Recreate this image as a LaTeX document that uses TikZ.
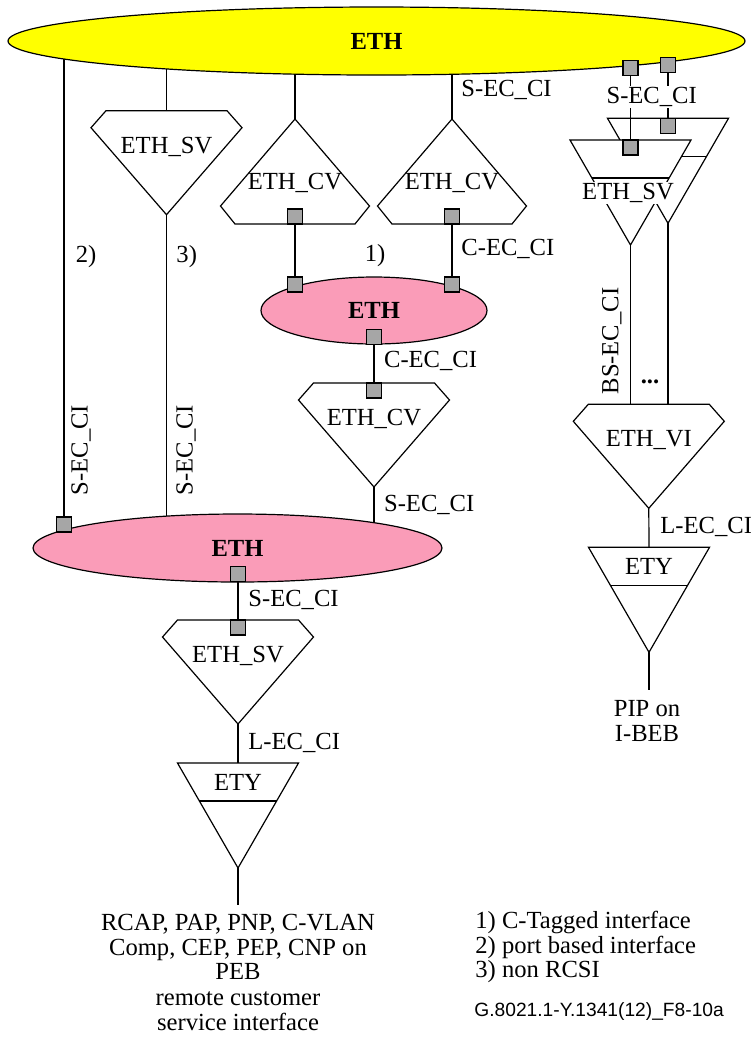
\documentclass[tikz,border=0pt]{standalone}
\usepackage{fontspec}
\setmainfont{Liberation Serif}
\newfontfamily\lsans{Liberation Sans}
\usetikzlibrary{shapes.geometric}
\pgfdeclarelayer{bg}
\pgfsetlayers{bg,main}
\definecolor{ethyellow}{RGB}{255,255,0}
\definecolor{ethpink}{RGB}{250,156,184}
\definecolor{sqgray}{RGB}{166,166,166}
\newcommand\fsz{\fontsize{12.3}{14.5}\selectfont}
\tikzset{
  fnshape/.style={draw, fill=white, line width=0.6pt, line join=miter},
  conn/.style={line width=0.6pt},
  sq/.style={draw, fill=sqgray, line width=0.6pt, minimum size=7.5pt, inner sep=0pt},
  lbl/.style={font=\fsz, inner sep=1pt},
  wlbl/.style={font=\fsz, inner sep=0.6pt, fill=white},
  ell/.style={ellipse, draw, line width=0.6pt, inner sep=0pt, font=\fsz\bfseries},
  pics/pentdown/.style={code={
    \draw[fnshape] (-60.5,0) -- (60.5,0) -- (75.5,17) -- (0,104) -- (-75.5,17) -- cycle;
    \coordinate (-top) at (0,0); \coordinate (-bot) at (0,104);
    \node[lbl] (-txt) at (0,36) {#1};
  }},
  pics/pentup/.style={code={
    \draw[fnshape] (0,0) -- (74.5,87) -- (60,105) -- (-60,105) -- (-74.5,87) -- cycle;
    \coordinate (-top) at (0,0); \coordinate (-bot) at (0,105);
    \node[lbl] (-txt) at (0,64) {#1};
  }},
  pics/tri/.style={code={
    \draw[fnshape] (-60.5,0) -- (60.5,0) -- (0,105) -- cycle;
    \draw[conn] (-38.6,38) -- (38.6,38);
    \coordinate (-top) at (0,0); \coordinate (-bot) at (0,105);
    \node[lbl] (-txt) at (0,19) {#1};
  }},
}
\begin{document}
\begin{tikzpicture}[x=0.5pt, y=-0.5pt]
\useasboundingbox (0,0) rectangle (751,1041);

% ellipses
\node[ell, fill=ethyellow, minimum width=368.5pt, minimum height=34pt] (top) at (376.5,41) {ETH};
\node[ell, fill=ethpink, minimum width=113pt, minimum height=33.5pt] (mid) at (374,310.5) {ETH};
\node[ell, fill=ethpink, minimum width=204.5pt, minimum height=34pt] (low) at (237.5,548) {ETH};

% function blocks
\pic (sv1) at (166.5,110.7) {pentdown={ETH\_SV}};
\pic (cv1) at (295,119) {pentup={ETH\_CV}};
\pic (cv2) at (452,119) {pentup={ETH\_CV}};
\pic (cv3) at (374,383) {pentdown={ETH\_CV}};
\pic (sv2) at (238,620) {pentdown={ETH\_SV}};
\pic (ety1) at (238,763) {tri={ETY}};
\pic (bk) at (668,118.3) {tri={}};
\pic (fr) at (630.5,140) {tri={}};
\pic (vi) at (648.8,404.3) {pentdown={ETH\_VI}};
\pic (ety2) at (649,547.3) {tri={ETY}};

% connection squares
\node[sq] (sqA) at (295,216.5) {};
\node[sq] (sqB) at (452,216.5) {};
\node[sq] (sqC) at (295,284.5) {};
\node[sq] (sqD) at (452,284.5) {};
\node[sq] (sqE) at (374,337) {};
\node[sq] (sqF) at (374,390.5) {};
\node[sq] (sqG) at (64,524.5) {};
\node[sq] (sqH) at (238,574) {};
\node[sq] (sqI) at (238,627.5) {};
\node[sq] (sqJ) at (630.5,68) {};
\node[sq] (sqK) at (668,65) {};
\node[sq] (sqL) at (668,125.8) {};
\node[sq] (sqM) at (630.5,147.5) {};

\coordinate (end1) at (238,905);
\coordinate (end2) at (649,690);

% connectors behind
\begin{pgfonlayer}{bg}
\draw[conn] (sqG |- top) -- (sqG);
\draw[conn] (sv1-top |- top) -- (sv1-top);
\draw[conn] (sv1-bot) -- (sv1-bot |- low);
\draw[conn] (cv1-top |- top) -- (cv1-top);
\draw[conn] (cv2-top |- top) -- (cv2-top);
\draw[conn] (sqA) -- (sqC);
\draw[conn] (sqB) -- (sqD);
\draw[conn] (sqE) -- (sqF);
\draw[conn] (cv3-bot) -- (cv3-bot |- low);
\draw[conn] (sqH) -- (sqI);
\draw[conn] (sv2-bot) -- (ety1-top);
\draw[conn] (ety1-bot) -- (end1);
\draw[conn] (fr-bot) -- (fr-bot |- vi-top);
\draw[conn] (bk-bot) -- (bk-bot |- vi-top);
\draw[conn] (vi-bot) -- (ety2-top);
\draw[conn] (ety2-bot) -- (end2);
\end{pgfonlayer}
\draw[conn] (sqJ.south) -- (sqM.north);
\draw[conn] (sqK.south) -- (sqL.north);

% labels
\node[wlbl] (lsec1) at (651.7,96.7) {S-EC\_CI};
\node[wlbl] (lsvr) at (628,193) {ETH\_SV};
\node[lbl, anchor=west] (lsec2) at (459,90) {S-EC\_CI};
\node[lbl] (l2) at (86,256.7) {2)};
\node[lbl] (l3) at (186.7,256.7) {3)};
\node[lbl] (l1) at (375,256) {1)};
\node[lbl, anchor=west] (lcec1) at (459,249) {C-EC\_CI};
\node[lbl, anchor=west] (lcec2) at (381.7,361) {C-EC\_CI};
\node[lbl, anchor=west] (lsec3) at (381.7,505) {S-EC\_CI};
\node[lbl, rotate=90] (lsec4) at (81,450) {S-EC\_CI};
\node[lbl, rotate=90] (lsec5) at (186,450) {S-EC\_CI};
\node[lbl, anchor=west] (lsec6) at (246,600) {S-EC\_CI};
\node[lbl, anchor=west] (llec1) at (246,743) {L-EC\_CI};
\node[lbl, rotate=90] (lbsec) at (611.7,341) {BS-EC\_CI};
\node[lbl] (ldots) at (650,382) {\bfseries ...};
\node[lbl, anchor=west] (llec2) at (658,527) {L-EC\_CI};
\node[lbl, align=center, font=\fontsize{12.3}{12.5}\selectfont] (pip) at (647,721) {PIP on\\I-BEB};
\node[lbl, align=center, font=\fontsize{12.3}{12.25}\selectfont] (cap1) at (238,947) {RCAP, PAP, PNP, C-VLAN\\Comp, CEP, PEP, CNP on\\PEB};
\node[lbl, align=center, font=\fontsize{12.3}{12.5}\selectfont] (cap2) at (238,1011.5) {remote customer\\service interface};
\node[lbl, align=left, anchor=west, font=\fontsize{12.3}{12.25}\selectfont] (legend) at (473,947) {1) C-Tagged interface\\2) port based interface\\3) non RCSI};
\node[lbl, anchor=west, font=\lsans\fontsize{9.6}{11}\selectfont] (fig) at (472,1012) {G.8021.1-Y.1341(12)\_F8-10a};
\end{tikzpicture}
\end{document}
